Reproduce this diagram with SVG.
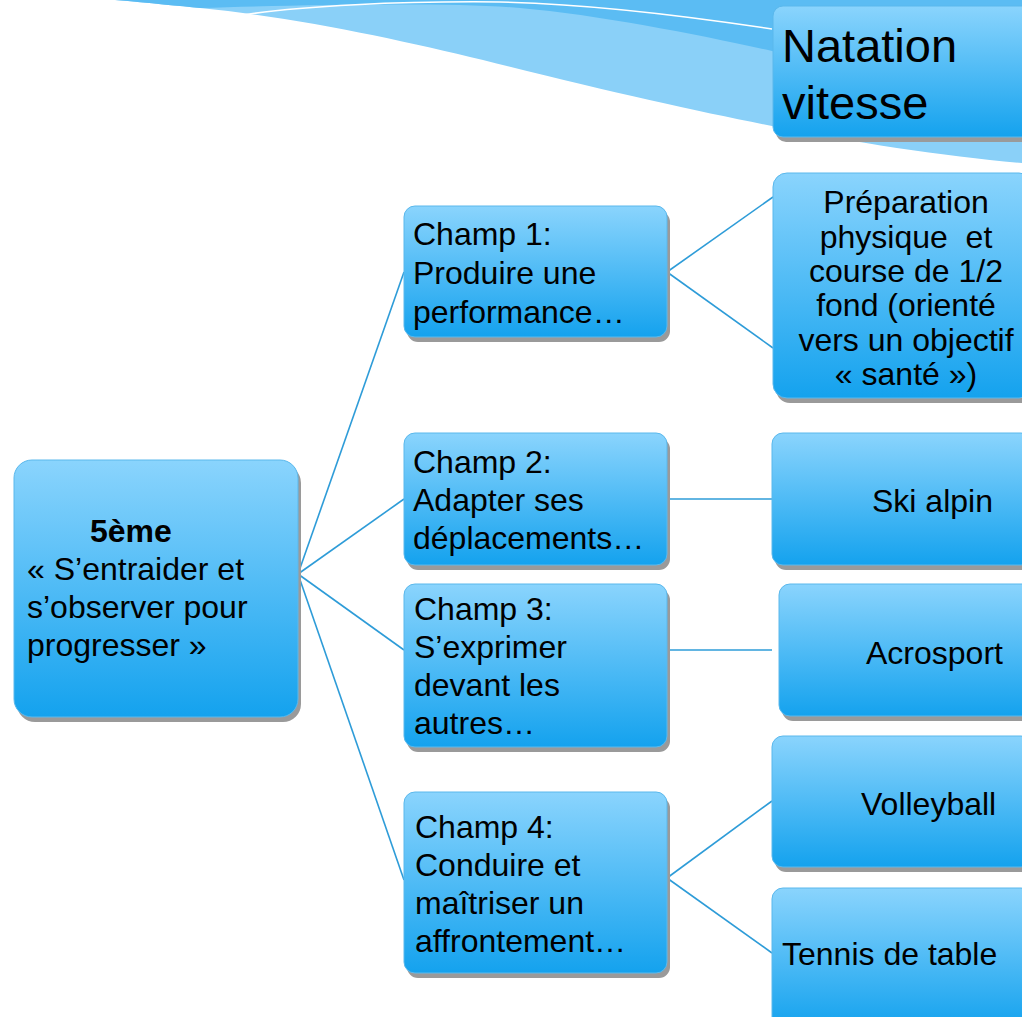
<svg xmlns="http://www.w3.org/2000/svg" width="1022" height="1017" viewBox="0 0 1022 1017">
<defs>
<linearGradient id="g" x1="0" y1="0" x2="0" y2="1">
<stop offset="0" stop-color="#8ad4fd"/>
<stop offset="1" stop-color="#14a2ee"/>
</linearGradient>
</defs>
<style>
.box{fill:url(#g);stroke:#5ab8ec;stroke-width:1}
.sh{fill:#9a9a9a}
.t{font-family:"Liberation Sans",Arial,sans-serif;font-size:32px;fill:#000}
.c{text-anchor:middle}
.b{font-weight:bold}
.ln{stroke:#2e9cd8;stroke-width:1.6;fill:none}
</style>
<rect width="1022" height="1017" fill="#fff"/>
<g id="wave">
<path d="M115,0 C150,3 180,6 200,8 C300,18 400,40 483,60 C600,90 700,112 772,126 C850,142 950,157 1022,163 L1022,0 Z" fill="#8ad0f8"/>
<path d="M115,0 C150,3 180,6 200,8 C300,5 450,2 520,8 C600,15 700,35 772,51 C850,70 950,90 1022,100 L1022,0 Z" fill="#5bbcf3"/>
<path d="M243,15 C300,6 400,1 500,2 C600,4 700,18 772,29" stroke="#fff" stroke-width="1.5" fill="none"/>
</g>
<g id="connectors">
<line class="ln" x1="298" y1="574" x2="404" y2="272"/>
<line class="ln" x1="298" y1="574" x2="404" y2="499"/>
<line class="ln" x1="298" y1="574" x2="404" y2="650"/>
<line class="ln" x1="298" y1="574" x2="404" y2="880"/>
<line class="ln" x1="667" y1="272" x2="773" y2="197"/>
<line class="ln" x1="667" y1="272" x2="773" y2="348"/>
<line class="ln" x1="667" y1="499" x2="772" y2="499"/>
<line class="ln" x1="667" y1="650" x2="772" y2="650"/>
<line class="ln" x1="667" y1="878" x2="772" y2="801"/>
<line class="ln" x1="667" y1="878" x2="772" y2="953"/>
</g>
<g id="natation">
<rect class="sh" x="776" y="11" width="260" height="131" rx="10"/>
<rect class="box" x="773" y="6" width="260" height="131" rx="10"/>
<text class="t" style="font-size:47px" x="782" y="62">Natation</text>
<text class="t" style="font-size:47px" x="782" y="119">vitesse</text>
</g>
<g id="root">
<rect class="sh" x="17" y="465" width="284" height="257" rx="18"/>
<rect class="box" x="14" y="460" width="284" height="257" rx="18"/>
<text class="t b" x="90" y="542">5ème</text>
<text class="t" x="27" y="580">« S’entraider et</text>
<text class="t" x="27" y="618">s’observer pour</text>
<text class="t" x="27" y="656">progresser »</text>
</g>
<g id="champ1">
<rect class="sh" x="407" y="211" width="263" height="131" rx="11"/>
<rect class="box" x="404" y="206" width="263" height="131" rx="11"/>
<text class="t" x="413" y="245">Champ 1:</text>
<text class="t" x="413" y="284">Produire une</text>
<text class="t" x="413" y="323">performance…</text>
</g>
<g id="champ2">
<rect class="sh" x="407" y="438" width="263" height="132" rx="11"/>
<rect class="box" x="404" y="433" width="263" height="132" rx="11"/>
<text class="t" x="413" y="473">Champ 2:</text>
<text class="t" x="413" y="511">Adapter ses</text>
<text class="t" x="413" y="549">déplacements…</text>
</g>
<g id="champ3">
<rect class="sh" x="407" y="589" width="263" height="163" rx="11"/>
<rect class="box" x="404" y="584" width="263" height="163" rx="11"/>
<text class="t" x="414" y="620">Champ 3:</text>
<text class="t" x="414" y="658">S’exprimer</text>
<text class="t" x="414" y="696">devant les</text>
<text class="t" x="414" y="734">autres…</text>
</g>
<g id="champ4">
<rect class="sh" x="407" y="797" width="263" height="181" rx="11"/>
<rect class="box" x="404" y="792" width="263" height="181" rx="11"/>
<text class="t" x="415" y="838">Champ 4:</text>
<text class="t" x="415" y="876">Conduire et</text>
<text class="t" x="415" y="914">maîtriser un</text>
<text class="t" x="415" y="952">affrontement…</text>
</g>
<g id="preparation">
<rect class="sh" x="776" y="178" width="260" height="225" rx="14"/>
<rect class="box" x="773" y="173" width="260" height="225" rx="14"/>
<text class="t c" x="906" y="213">Préparation</text>
<text class="t c" x="906" y="248" xml:space="preserve">physique  et</text>
<text class="t c" x="906" y="282">course de 1/2</text>
<text class="t c" x="906" y="316">fond (orienté</text>
<text class="t c" x="906" y="351">vers un objectif</text>
<text class="t c" x="906" y="385">« santé »)</text>
</g>
<g id="ski">
<rect class="sh" x="775" y="438" width="260" height="132" rx="11"/>
<rect class="box" x="772" y="433" width="260" height="132" rx="11"/>
<text class="t" x="872" y="512">Ski alpin</text>
</g>
<g id="acrosport">
<rect class="sh" x="782" y="589" width="260" height="132" rx="11"/>
<rect class="box" x="779" y="584" width="260" height="132" rx="11"/>
<text class="t" x="866" y="664">Acrosport</text>
</g>
<g id="volleyball">
<rect class="sh" x="775" y="741" width="260" height="131" rx="11"/>
<rect class="box" x="772" y="736" width="260" height="131" rx="11"/>
<text class="t" x="861" y="815">Volleyball</text>
</g>
<g id="tennis">
<rect class="sh" x="775" y="893" width="260" height="140" rx="11"/>
<rect class="box" x="772" y="888" width="260" height="140" rx="11"/>
<text class="t" x="782" y="965">Tennis de table</text>
</g>
</svg>
